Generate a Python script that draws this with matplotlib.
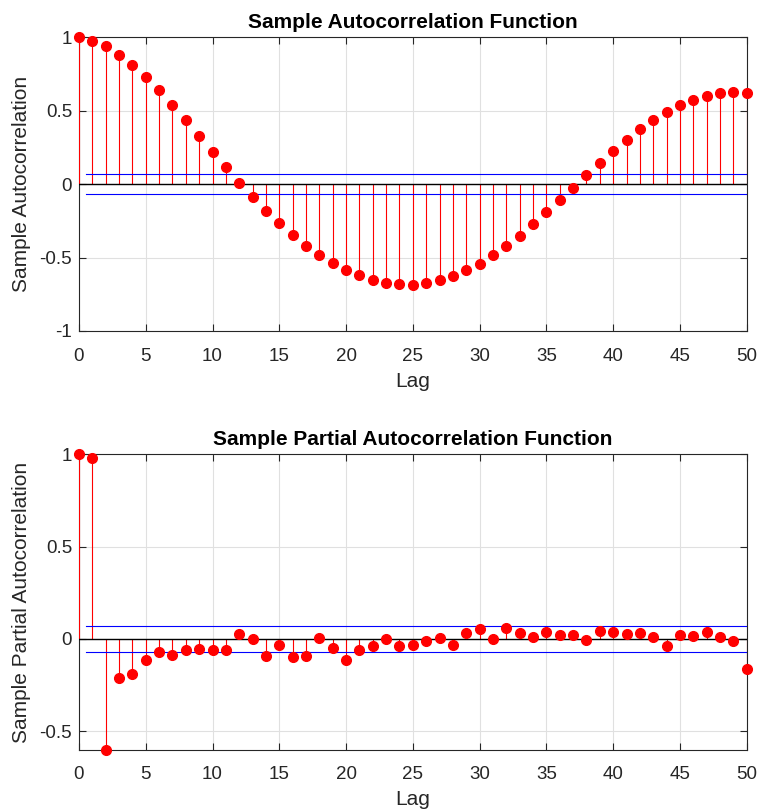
import numpy as np
import matplotlib
matplotlib.use("Agg")
import matplotlib.pyplot as plt

plt.rcParams['font.family'] = ['Liberation Sans', 'DejaVu Sans']

lags = list(range(51))
acf = [1.0, 0.977, 0.939, 0.882, 0.814, 0.730, 0.639, 0.540, 0.435, 0.329, 0.220,
       0.116, 0.011, -0.088, -0.181, -0.265, -0.347, -0.420, -0.483, -0.537, -0.583,
       -0.621, -0.651, -0.673, -0.683, -0.685, -0.676, -0.655, -0.626, -0.585, -0.542,
       -0.485, -0.422, -0.351, -0.272, -0.190, -0.107, -0.023, 0.063, 0.145, 0.227,
       0.304, 0.374, 0.440, 0.494, 0.537, 0.576, 0.603, 0.621, 0.626, 0.621]
pacf = [1.0, 0.980, -0.600, -0.214, -0.191, -0.113, -0.072, -0.085, -0.058, -0.054, -0.058,
        -0.059, 0.025, 0.002, -0.094, -0.032, -0.099, -0.092, 0.004, -0.047, -0.115,
        -0.059, -0.038, -0.002, -0.038, -0.033, -0.011, 0.005, -0.032, 0.034, 0.052,
        -0.002, 0.058, 0.032, 0.009, 0.040, 0.020, 0.023, -0.004, 0.045, 0.036,
        0.029, 0.032, 0.009, -0.036, 0.022, 0.018, 0.040, 0.011, -0.009, -0.162]
bound = 0.069

xticks = list(range(0, 51, 5))
top_yticks = [-1, -0.5, 0, 0.5, 1]
top_yticklabels = ['-1', '-0.5', '0', '0.5', '1']
bot_yticks = [-0.5, 0, 0.5, 1]
bot_yticklabels = ['-0.5', '0', '0.5', '1']

fig = plt.figure(figsize=(7.6, 8.11), dpi=100)
ax1 = fig.add_axes([0.1039, 0.5919, 0.8786, 0.3621])
ax2 = fig.add_axes([0.1039, 0.0756, 0.8786, 0.3642])

axcol = '#262626'

def draw(ax, vals, ylim, yt, ytl, title, ylabel):
    ax.vlines(lags, 0, vals, colors='red', linewidth=0.8, zorder=3)
    ax.plot(lags, vals, 'o', color='red', markersize=7, zorder=4, clip_on=False)
    ax.axhline(0, color='black', linewidth=1.0, zorder=3)
    ax.plot([0.5, 50.5], [bound, bound], color='blue', linewidth=0.8, zorder=3)
    ax.plot([0.5, 50.5], [-bound, -bound], color='blue', linewidth=0.8, zorder=3)
    ax.set_xlim(0, 50)
    ax.set_ylim(*ylim)
    ax.set_xticks(xticks)
    ax.set_yticks(yt)
    ax.set_yticklabels(ytl)
    ax.grid(True, color='#e0e0e0', linewidth=0.8)
    ax.set_axisbelow(True)
    ax.tick_params(direction='in', length=5, top=True, right=True, labelsize=13.5,
                   color=axcol, labelcolor=axcol, width=0.8)
    ax.tick_params(axis='x', pad=12)
    ax.tick_params(axis='y', pad=5)
    for s in ax.spines.values():
        s.set_color(axcol)
        s.set_linewidth(0.8)
    ax.set_title(title, fontsize=15, fontweight='bold', pad=7)
    ax.set_xlabel('Lag', fontsize=15, color=axcol, labelpad=5)
    ax.set_ylabel(ylabel, fontsize=15, color=axcol, labelpad=6)

draw(ax1, acf, (-1, 1), top_yticks, top_yticklabels,
     'Sample Autocorrelation Function', 'Sample Autocorrelation')
draw(ax2, pacf, (-0.6, 1), bot_yticks, bot_yticklabels,
     'Sample Partial Autocorrelation Function', 'Sample Partial Autocorrelation')

fig.savefig('out.png', dpi=100)
